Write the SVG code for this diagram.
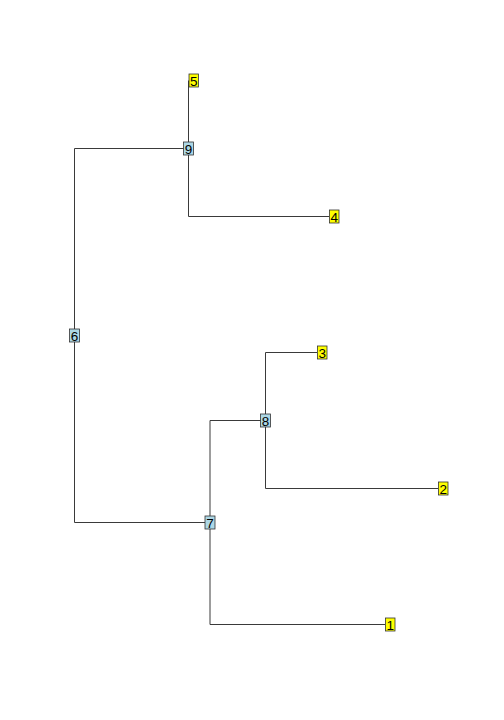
<svg xmlns="http://www.w3.org/2000/svg" width="504" height="720" viewBox="0 0 504 720">
<style>
.e{fill:none;stroke:#3a3a3a;stroke-width:1}
.tip{fill:#ffff00;stroke:#333;stroke-width:0.8}
.int{fill:#add8e6;stroke:#333;stroke-width:0.8}
text{font-family:"Liberation Sans",Arial,sans-serif;font-size:13.5px;fill:#000;text-anchor:middle}
</style>
<rect width="504" height="720" fill="#fff"/>
<g id="connectors">
<path class="e" d="M74.5,148.5V522.5"/>
<path class="e" d="M74.5,148.5H188.5"/>
<path class="e" d="M74.5,522.5H210"/>
<path class="e" d="M188.5,80.5V216.5H329"/>
<path class="e" d="M210,420.5V624.5H385"/>
<path class="e" d="M210,420.5H265.5"/>
<path class="e" d="M265.5,352.5V488.5H438"/>
<path class="e" d="M265.5,352.5H317"/>
</g>
<g id="node5"><rect class="tip" x="189" y="74" width="9.5" height="13"/><text x="193.75" y="85.5">5</text></g>
<g id="node4"><rect class="tip" x="329.5" y="210" width="9.5" height="13"/><text x="334.25" y="221.5">4</text></g>
<g id="node3"><rect class="tip" x="317.5" y="346" width="9.5" height="13"/><text x="322.25" y="357.5">3</text></g>
<g id="node2"><rect class="tip" x="438.5" y="482" width="9.5" height="13"/><text x="443.25" y="493.5">2</text></g>
<g id="node1"><rect class="tip" x="385.5" y="618" width="9.5" height="13"/><text x="390.25" y="629.5">1</text></g>
<g id="node9"><rect class="int" x="183.5" y="142" width="10" height="13"/><text x="188.5" y="153.5">9</text></g>
<g id="node6"><rect class="int" x="69.5" y="329" width="10" height="13"/><text x="74.5" y="340.5">6</text></g>
<g id="node8"><rect class="int" x="260.5" y="414" width="10" height="13"/><text x="265.5" y="425.5">8</text></g>
<g id="node7"><rect class="int" x="205" y="516" width="10" height="13"/><text x="210" y="527.5">7</text></g>
</svg>
